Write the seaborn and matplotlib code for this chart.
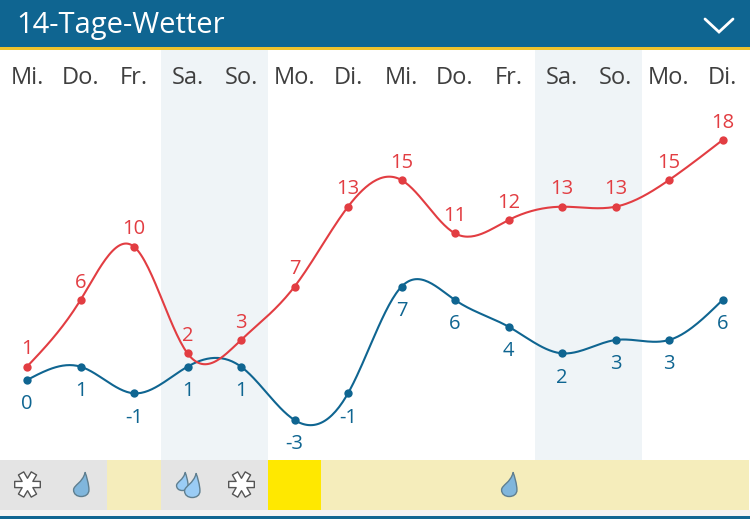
"""14-Tage-Wetter chart: daily max/min temperature curves with a precipitation strip."""

import matplotlib.pyplot as plt
import numpy as np
import pandas as pd
import seaborn as sns
from matplotlib.patches import Rectangle
from matplotlib.path import Path
from matplotlib.transforms import Affine2D

DAYS = ["Mi.", "Do.", "Fr.", "Sa.", "So.", "Mo.", "Di.",
        "Mi.", "Do.", "Fr.", "Sa.", "So.", "Mo.", "Di."]
TEMP_MAX = [1, 6, 10, 2, 3, 7, 13, 15, 11, 12, 13, 13, 15, 18]
TEMP_MIN = [0, 1, -1, 1, 1, -3, -1, 7, 6, 4, 2, 3, 3, 6]
WEEKEND_SPANS = [(3, 4), (10, 11)]
# one strip colour per day: snow/rain grey, dry beige, sunny yellow
STRIP_KIND = ["wet", "wet", "dry", "wet", "wet", "sun", "dry",
              "dry", "dry", "dry", "dry", "dry", "dry", "dry"]
SNOW_DAYS = [0, 4]
LIGHT_RAIN_DAYS = [1, 9]
HEAVY_RAIN_DAYS = [3]

W, H = 750, 519
BLUE = "#0f6591"
RED = "#e23d42"
DAY_GREY = "#3f3f3f"
STRIP_COLORS = {"wet": "#e4e4e4", "dry": "#f5edbb", "sun": "#ffe800"}

PX_PER_DAY = 53.5
PX_PER_DEG = 13.33
X0_PX, Y0_PX = 27, 380

sns.set_theme(style="white")
plt.rcParams["font.family"] = ["Open Sans", "DejaVu Sans"]


def natural_spline(values, per_day=30):
    """Natural cubic spline through the daily values, used for the curve only."""
    y = np.asarray(values, dtype=float)
    n = len(y)
    A = np.zeros((n, n))
    b = np.zeros(n)
    A[0, 0] = A[-1, -1] = 1
    for i in range(1, n - 1):
        A[i, i - 1:i + 2] = [1, 4, 1]
        b[i] = 6 * (y[i - 1] - 2 * y[i] + y[i + 1])
    m = np.linalg.solve(A, b)
    xs = np.linspace(0, n - 1, (n - 1) * per_day + 1)
    i = np.minimum(xs.astype(int), n - 2)
    t = xs - i
    ys = ((1 - t) * y[i] + t * y[i + 1]
          + ((1 - t) ** 3 - (1 - t)) * m[i] / 6 + (t ** 3 - t) * m[i + 1] / 6)
    return xs, ys


def snow_marker():
    """Six-armed flake outline with horizontal arms."""
    half, verts = 0.24, []
    for ang in np.deg2rad(np.arange(0, 360, 60)):
        u = np.array([np.cos(ang), np.sin(ang)])
        v = np.array([-u[1], u[0]])
        verts += [u * 0.42 - v * half, u - v * half, u + v * half]
    return Path(verts + verts[:1], closed=True)


def drop_marker():
    """Slim drop with its tip leaning to the right."""
    verts = [(0.3, 1.0), (0.42, 0.7), (0.62, 0.0), (0.62, -0.45),
             (0.62, -0.82), (0.32, -1.0), (-0.02, -1.0),
             (-0.38, -1.0), (-0.66, -0.8), (-0.66, -0.45),
             (-0.66, -0.05), (0.1, 0.15), (0.3, 1.0), (0.3, 1.0)]
    codes = [Path.MOVETO] + [Path.CURVE4] * 12 + [Path.CLOSEPOLY]
    return Path(verts, codes)


def draw_icons(ax, days, marker, size, face, edge, dx=0.0, y=-7.8):
    frame = pd.DataFrame({"day": np.array(days) + dx, "pos": y})
    sns.scatterplot(data=frame, x="day", y="pos", ax=ax, marker=marker, s=size,
                    color=face, edgecolor=edge, linewidth=1.0, zorder=5, legend=False)


fig = plt.figure(figsize=(W / 100, H / 100), dpi=100, facecolor="white")
ax = fig.add_axes([0, 0, 1, 1])
ax.set_xlim(-X0_PX / PX_PER_DAY, (W - X0_PX) / PX_PER_DAY)
ax.set_ylim((Y0_PX - H) / PX_PER_DEG, Y0_PX / PX_PER_DEG)
ax.axis("off")

# pixel coordinates for the app chrome around the chart
chrome = Affine2D().scale(1 / W, -1 / H).translate(0, 1) + fig.transFigure

for first, last in WEEKEND_SPANS:
    ax.axvspan(first - 0.5, last + 0.5, color="#eff4f7", lw=0, zorder=0)

days = np.arange(len(DAYS))
ax.bar(days, height=3.75, bottom=(Y0_PX - 510) / PX_PER_DEG, width=1.0,
       color=[STRIP_COLORS[k] for k in STRIP_KIND], linewidth=0, zorder=1)

for x0, y0, w, h, color in [(0, 0, W, 47, BLUE), (0, 47, W, 3, "#eec22c"),
                            (0, 510, W, 6, "#f2f2f2"), (0, 516, W, 3, BLUE)]:
    ax.add_patch(Rectangle((x0, y0), w, h, transform=chrome, color=color, lw=0, zorder=2))

ax.text(16, 26, "14-Tage-Wetter", transform=chrome, color="white", fontsize=21,
        va="center", ha="left", zorder=3)
ax.plot([705, 719, 733], [19, 32, 19], transform=chrome, color="white", lw=2.0,
        solid_joinstyle="miter", zorder=3)

for i, name in enumerate(DAYS):
    ax.text(i, (Y0_PX - 78) / PX_PER_DEG, name, color=DAY_GREY, fontsize=17,
            ha="center", va="center", zorder=3)

for values, color, offset in [(TEMP_MIN, BLUE, -17.5), (TEMP_MAX, RED, 12.5)]:
    xs, ys = natural_spline(values)
    sns.lineplot(x=xs, y=ys, ax=ax, color=color, lw=1.5, zorder=4, errorbar=None,
                 sort=False, legend=False)
    sns.scatterplot(x=days, y=values, ax=ax, color=color, s=36, linewidth=0, zorder=4.5,
                    legend=False)
    for i, val in zip(days, values):
        ax.annotate(str(val), (i, val), xytext=(0, offset), textcoords="offset points",
                    color=color, fontsize=14.5, ha="center", va="center", zorder=5)

draw_icons(ax, SNOW_DAYS, snow_marker(), 340, "white", "#555555")
draw_icons(ax, LIGHT_RAIN_DAYS, drop_marker(), 299, "#80b6dc", "#5f7f90")
draw_icons(ax, HEAVY_RAIN_DAYS, drop_marker(), 168, "#9accf5", "#5f7f90", dx=-0.11, y=-7.58)
draw_icons(ax, HEAVY_RAIN_DAYS, drop_marker(), 299, "#9accf5", "#5f7f90", dx=0.08, y=-7.88)

ax.set_xlabel("")
ax.set_ylabel("")
fig.savefig("out.png", dpi=100, facecolor="white")
plt.close(fig)
